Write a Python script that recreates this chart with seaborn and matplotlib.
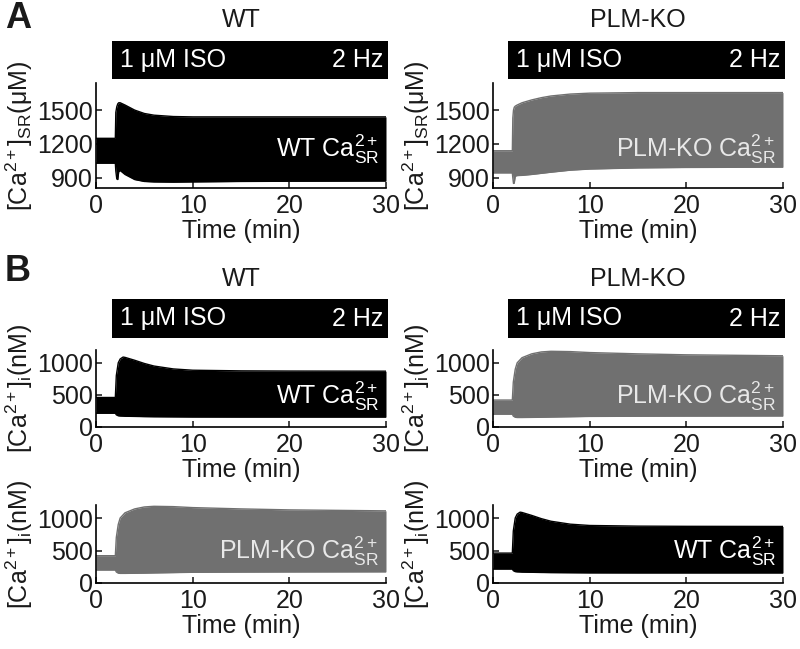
import numpy as np
import matplotlib
matplotlib.use("Agg")
import matplotlib.pyplot as plt
import seaborn as sns
from matplotlib.patches import Rectangle

sns.set_theme(style="ticks")
plt.rcParams["font.family"] = ["Liberation Sans", "DejaVu Sans"]
plt.rcParams["mathtext.fontset"] = "custom"
plt.rcParams["mathtext.rm"] = "Liberation Sans"
plt.rcParams["mathtext.it"] = "Liberation Sans"

# envelope of the Ca transients (upper / lower edge), time in min
t_wt_sr = [0, 2.0, 2.05, 2.15, 2.25, 2.35, 2.5, 3, 4, 5, 6, 8, 10, 15, 20, 30]
wt_sr_hi = [1250, 1250, 1480, 1530, 1555, 1565, 1565, 1545, 1500, 1470, 1455, 1443, 1440, 1440, 1440, 1440]
wt_sr_lo = [1030, 1030, 960, 890, 885, 955, 965, 930, 885, 868, 864, 862, 864, 868, 870, 872]

t_ko_sr = [0, 2.0, 2.05, 2.12, 2.2, 2.3, 2.5, 3, 4, 5, 6, 8, 10, 15, 20, 30]
ko_sr_hi = [1140, 1140, 1430, 1500, 1525, 1535, 1545, 1565, 1590, 1610, 1625, 1642, 1650, 1655, 1655, 1655]
ko_sr_lo = [944, 944, 900, 850, 855, 915, 920, 922, 930, 940, 950, 968, 978, 988, 992, 995]

t_wt_i = [0, 2.0, 2.1, 2.3, 2.5, 2.8, 3, 4, 5, 6, 8, 10, 15, 20, 30]
wt_i_hi = [460, 460, 800, 1000, 1060, 1090, 1085, 1040, 990, 950, 905, 885, 875, 872, 870]
wt_i_lo = [215, 215, 190, 175, 172, 170, 168, 165, 162, 160, 158, 156, 155, 155, 155]

t_ko_i = [0, 2.0, 2.1, 2.3, 2.5, 3, 4, 5, 6, 8, 10, 15, 20, 30]
ko_i_hi = [420, 420, 700, 900, 1000, 1080, 1140, 1170, 1180, 1175, 1160, 1140, 1125, 1110]
ko_i_lo = [200, 200, 170, 152, 148, 148, 150, 152, 155, 160, 165, 168, 170, 172]

sr_ticks = [900, 1200, 1500]
i_ticks = [0, 500, 1000]
x_ticks = [0, 10, 20, 30]

BLACK = "#000000"
GREY = "#707070"
TXT = "#1a1a1a"
FS = 18

W, H = 800, 649
fig = plt.figure(figsize=(W / 100, H / 100), dpi=100)


def px_axes(x0, y0, x1, y1):
    return fig.add_axes([x0 / W, 1 - y1 / H, (x1 - x0) / W, (y1 - y0) / H])


def panel(box, t, hi, lo, color, label, label_col, ylim, yticks, ylab, label_y):
    ax = px_axes(*box)
    ax.fill_between(t, lo, hi, color=color, lw=0)
    sns.lineplot(x=t, y=hi, ax=ax, color=color, lw=1)
    sns.lineplot(x=t, y=lo, ax=ax, color=color, lw=1)
    ax.set_xlim(0, 30)
    ax.set_ylim(*ylim)
    ax.set_xticks(x_ticks)
    ax.set_yticks(yticks)
    ax.tick_params(direction="in", length=4, width=1.2, labelsize=FS, pad=2,
                   labelcolor=TXT)
    ax.tick_params(axis="x", pad=4)
    sns.despine(ax=ax)
    for s in ["left", "bottom"]:
        ax.spines[s].set_linewidth(1.2)
        ax.spines[s].set_color("black")
    ax.set_xlabel("Time (min)", fontsize=FS, labelpad=1, color=TXT)
    ax.set_ylabel(ylab, fontsize=FS, labelpad=0, color=TXT)
    ax.yaxis.set_label_coords(-0.21, 0.5)
    ax.text(29.3, label_y, label, color=label_col, fontsize=FS, ha="right", va="center")
    return ax


def iso_bar(x0, y0, x1, y1):
    fig.add_artist(Rectangle((x0 / W, 1 - y1 / H), (x1 - x0) / W, (y1 - y0) / H,
                             transform=fig.transFigure, color="black", lw=0))
    yc = 1 - (y0 + y1) / 2 / H
    fig.text((x0 + 8) / W, yc, "1 μM ISO", color="white", fontsize=FS, ha="left", va="center")
    fig.text((x1 - 5) / W, yc, "2 Hz", color="white", fontsize=FS, ha="right", va="center")


sr_lab = r"[Ca$^{2+}$]$_{\rm SR}$(μM)"
i_lab = r"[Ca$^{2+}$]$_{\rm i}$(nM)"
wt_txt = r"WT Ca$^{2+}_{\rm SR}$"
ko_txt = r"PLM-KO Ca$^{2+}_{\rm SR}$"

# panel A
panel((96, 83, 386, 188), t_wt_sr, wt_sr_hi, wt_sr_lo, BLACK, wt_txt, "white",
      (810, 1740), sr_ticks, sr_lab, 1156)
panel((493, 83, 783, 188), t_ko_sr, ko_sr_hi, ko_sr_lo, GREY, ko_txt, "#e8e8e8",
      (810, 1740), sr_ticks, sr_lab, 1156)
iso_bar(112, 41, 388, 79)
iso_bar(508, 41, 785, 79)
fig.text(241 / W, 1 - 20 / H, "WT", fontsize=FS, ha="center", va="center", color=TXT)
fig.text(638 / W, 1 - 20 / H, "PLM-KO", fontsize=FS, ha="center", va="center", color=TXT)
fig.text(18 / W, 1 - 19 / H, "A", fontsize=26, fontweight="bold", ha="center", va="center", color=TXT)

# panel B
panel((96, 350, 386, 427), t_wt_i, wt_i_hi, wt_i_lo, BLACK, wt_txt, "white",
      (0, 1200), i_ticks, i_lab, 480)
panel((493, 350, 783, 427), t_ko_i, ko_i_hi, ko_i_lo, GREY, ko_txt, "#e8e8e8",
      (0, 1200), i_ticks, i_lab, 480)
panel((96, 505, 386, 583), t_ko_i, ko_i_hi, ko_i_lo, GREY, ko_txt, "#e8e8e8",
      (0, 1200), i_ticks, i_lab, 480)
panel((493, 505, 783, 583), t_wt_i, wt_i_hi, wt_i_lo, BLACK, wt_txt, "white",
      (0, 1200), i_ticks, i_lab, 480)
iso_bar(112, 299, 388, 338)
iso_bar(508, 299, 785, 338)
fig.text(241 / W, 1 - 279 / H, "WT", fontsize=FS, ha="center", va="center", color=TXT)
fig.text(638 / W, 1 - 279 / H, "PLM-KO", fontsize=FS, ha="center", va="center", color=TXT)
fig.text(18 / W, 1 - 271 / H, "B", fontsize=26, fontweight="bold", ha="center", va="center", color=TXT)

fig.savefig("out.png", dpi=100)
